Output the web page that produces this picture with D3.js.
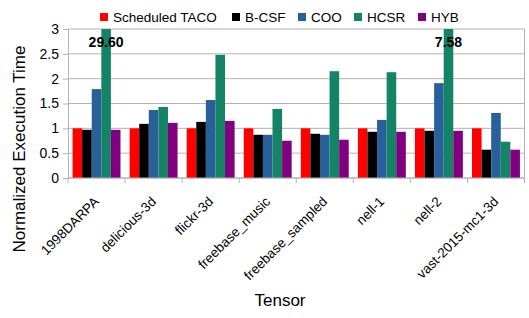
<!DOCTYPE html>
<html>
<head>
<meta charset="utf-8">
<script src="https://cdn.jsdelivr.net/npm/d3@7"></script>
<style>
  body { margin: 0; background: #fff; }
  svg { font-family: "Liberation Sans", Arial, sans-serif; }
</style>
</head>
<body>
<div id="chart"></div>
<script>
let tensors = ["1998DARPA", "delicious-3d", "flickr-3d", "freebase_music", "freebase_sampled", "nell-1", "nell-2", "vast-2015-mc1-3d"];
let seriesNames = ["Scheduled TACO", "B-CSF", "COO", "HCSR", "HYB"];
let colors = ["#ff0000", "#000000", "#2a6099", "#158466", "#800080"];

let tacoValues = [1, 1, 1, 1, 1, 1, 1, 1];
let bcsfValues = [0.97, 1.09, 1.13, 0.87, 0.89, 0.93, 0.95, 0.57];
let cooValues = [1.79, 1.37, 1.57, 0.87, 0.87, 1.17, 1.91, 1.31];
let hcsrValues = [29.60, 1.43, 2.48, 1.39, 2.15, 2.13, 7.58, 0.73];
let hybValues = [0.97, 1.11, 1.15, 0.75, 0.77, 0.93, 0.95, 0.57];
let yTicks = [0, 0.5, 1, 1.5, 2, 2.5, 3];

let allValues = [tacoValues, bcsfValues, cooValues, hcsrValues, hybValues];

let width = 529, height = 318;
let margin = { top: 29, right: 4, bottom: 140, left: 68 };
let plotW = width - margin.left - margin.right - 0.5;
let plotH = height - margin.top - margin.bottom;

let svg = d3.select("#chart").append("svg")
  .attr("width", width)
  .attr("height", height);

let g = svg.append("g").attr("transform", "translate(" + margin.left + "," + margin.top + ")");

let x0 = d3.scaleBand().domain(tensors).range([0, plotW]).paddingInner(0.16).paddingOuter(0.08);
let x1 = d3.scaleBand().domain(seriesNames).range([0, x0.bandwidth()]);
let y = d3.scaleLinear().domain([0, 3]).range([plotH, 0]);

// grid
g.selectAll(".grid").data(yTicks).enter().append("line")
  .attr("x1", 0).attr("x2", plotW)
  .attr("y1", d => y(d)).attr("y2", d => y(d))
  .attr("stroke", "#b3b3b3").attr("stroke-width", 1);

g.append("line").attr("x1", plotW).attr("x2", plotW).attr("y1", 0).attr("y2", plotH)
  .attr("stroke", "#b3b3b3");

// bars
let groups = g.selectAll(".grp").data(tensors).enter().append("g")
  .attr("transform", d => "translate(" + x0(d) + ",0)");

groups.selectAll("rect")
  .data((d, i) => seriesNames.map((s, j) => ({ s: s, v: allValues[j][i], c: colors[j] })))
  .enter().append("rect")
  .attr("x", d => x1(d.s))
  .attr("width", x1.bandwidth())
  .attr("y", d => y(Math.min(d.v, 3)))
  .attr("height", d => plotH - y(Math.min(d.v, 3)))
  .attr("fill", d => d.c);

// value labels for clipped bars
tensors.forEach((t, i) => {
  if (hcsrValues[i] > 3) {
    g.append("text")
      .attr("x", x0(t) + x1("HCSR") + x1.bandwidth() / 2)
      .attr("y", 18)
      .attr("text-anchor", "middle")
      .attr("font-size", 14)
      .attr("font-weight", "bold")
      .text(hcsrValues[i].toFixed(2));
  }
});

// y axis
let yAxis = g.append("g").call(d3.axisLeft(y).tickValues(yTicks).tickSize(5).tickPadding(4).tickFormat(d3.format("")));
yAxis.select(".domain").attr("stroke", "#b3b3b3");
yAxis.selectAll(".tick line").attr("stroke", "#b3b3b3");
yAxis.selectAll("text").attr("font-size", 14).attr("fill", "#000").attr("font-family", "Liberation Sans, Arial, sans-serif");

// x axis with ticks at category boundaries
let xAxisG = g.append("g").attr("transform", "translate(0," + plotH + ")");
xAxisG.append("line").attr("x1", 0).attr("x2", plotW).attr("stroke", "#b3b3b3");
let bounds = d3.range(tensors.length + 1).map(i => i * plotW / tensors.length);
xAxisG.selectAll(".bt").data(bounds).enter().append("line")
  .attr("x1", d => d).attr("x2", d => d).attr("y1", 0).attr("y2", 5)
  .attr("stroke", "#b3b3b3");
xAxisG.selectAll(".lbl").data(tensors).enter().append("text")
  .attr("transform", d => "translate(" + (x0(d) + x0.bandwidth() / 2) + ",21) rotate(-45)")
  .attr("text-anchor", "end")
  .attr("dy", "0.35em")
  .attr("font-size", 13.5)
  .text(d => d);

// axis titles
svg.append("text")
  .attr("transform", "translate(25,149) rotate(-90)")
  .attr("text-anchor", "middle")
  .attr("font-size", 17)
  .text("Normalized Execution Time");

svg.append("text")
  .attr("x", 280)
  .attr("y", 306)
  .attr("text-anchor", "middle")
  .attr("font-size", 17)
  .text("Tensor");

// legend
let legendX = [100, 232, 298, 354, 418];
let legend = svg.selectAll(".leg").data(seriesNames).enter().append("g")
  .attr("transform", (d, i) => "translate(" + legendX[i] + ",13)");
legend.append("rect").attr("width", 8).attr("height", 8).attr("fill", (d, i) => colors[i]);
legend.append("text").attr("x", 13).attr("y", 4).attr("dy", "0.35em")
  .attr("font-size", 13.5).text(d => d);
</script>
</body>
</html>
